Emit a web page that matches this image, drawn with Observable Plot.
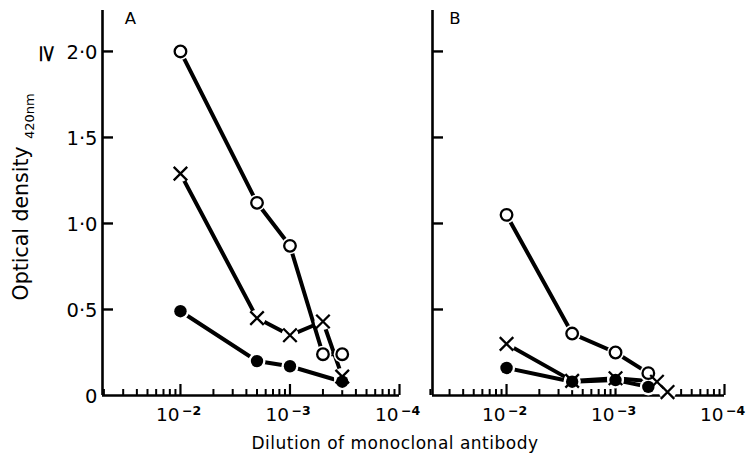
<!DOCTYPE html>
<html><head><meta charset="utf-8">
<script src="https://cdn.jsdelivr.net/npm/d3@7"></script>
<script src="https://cdn.jsdelivr.net/npm/@observablehq/plot@0.6"></script>
<style>
body{margin:0;background:#fff;}
#wrap{position:relative;width:748px;height:455px;font-family:"DejaVu Sans",sans-serif;background:#fff;overflow:hidden;}
#a{position:absolute;left:0;top:0;}
#b{position:absolute;left:420px;top:0;}
#xlab{position:absolute;left:0;width:790px;top:433px;text-align:center;font-size:17px;line-height:20px;letter-spacing:0.5px;color:#000;}
</style></head>
<body><div id="wrap"><div id="a"></div><div id="b"></div><div id="xlab">Dilution of monoclonal antibody</div></div>
<script>
// ---- Panel A data (dilution, optical density) ----
const dilA = [1e-2, 2e-3, 1e-3, 5e-4, 1/3000];
const aOpen = [2.0, 1.12, 0.87, 0.24, 0.24];
const aCross = [1.29, 0.45, 0.35, 0.43, 0.11];
const dilAFilled = [1e-2, 2e-3, 1e-3, 1/3000];
const aFilled = [0.49, 0.20, 0.17, 0.08];

// ---- Panel B data ----
const dilB = [1e-2, 1/400, 1e-3, 5e-4];
const bOpen = [1.05, 0.36, 0.25, 0.13];
const dilBCross = [1e-2, 1/400, 1e-3, 1/2400, 1/3000];
const bCross = [0.30, 0.085, 0.10, 0.08, 0.02];
const dilBFilled = [1e-2, 1/400, 1e-3, 5e-4];
const bFilled = [0.16, 0.08, 0.09, 0.05];

// ---- Axis ticks / labels ----
const yTicks = [0, 0.5, 1.0, 1.5, 2.0];
const yTickLabels = ["0", "0·5", "1·0", "1·5", "2·0"];
const xMajor = [1e-2, 1e-3, 1e-4];
const xMajorBase = ["10", "10", "10"];
const xMajorExp = ["−2", "−3", "−4"];
const minorFactors = [20, 30, 40, 50, 60, 70, 80, 90, 200, 300, 400, 500, 600, 700, 800, 900, 2000, 3000, 4000, 5000, 6000, 7000, 8000, 9000];
const xMinor = minorFactors.map(f => 1 / f);

const rows = (xs, ys) => xs.map((d, i) => ({d, v: ys[i]}));

function panel({width, marginLeft, marginRight, xLeft, series, letter, letterDx, withYLabels}) {
  const height = 430, marginTop = 10, marginBottom = 35;
  const fh = height - marginTop - marginBottom;
  const fw = width - marginLeft - marginRight;
  const marks = [];
  marks.push(Plot.ruleY([0], {strokeWidth: 2.6}));
  marks.push(Plot.ruleX([xLeft], {strokeWidth: 2.6}));
  marks.push(Plot.tickY(yTicks.slice(1), {y: d => d, insetRight: fw - 11, strokeWidth: 2.4}));
  marks.push(Plot.tickX(xMinor, {x: d => d, insetTop: fh - 6, strokeWidth: 2}));
  marks.push(Plot.tickX(xMajor, {x: d => d, insetTop: fh - 11, strokeWidth: 2.2}));
  marks.push(Plot.text(xMajor, {x: d => d, text: (d, i) => xMajorBase[i], frameAnchor: "bottom", dy: 20, dx: -1, textAnchor: "end", lineAnchor: "middle", fontSize: 18.5}));
  marks.push(Plot.text(xMajor, {x: d => d, text: (d, i) => xMajorExp[i], frameAnchor: "bottom", dy: 15, dx: 1.5, textAnchor: "start", lineAnchor: "middle", fontSize: 12.5, fontWeight: "bold"}));
  if (withYLabels) {
    marks.push(Plot.text(yTicks, {y: d => d, text: (d, i) => yTickLabels[i], frameAnchor: "left", dx: -5, dy: 1, textAnchor: "end", lineAnchor: "middle", fontSize: 19.5}));
    marks.push(Plot.text([2.0], {y: d => d, text: () => "≥", frameAnchor: "left", dx: -55, dy: 2, rotate: 90, textAnchor: "middle", lineAnchor: "middle", fontSize: 24}));
    marks.push(Plot.text(["Optical density"], {frameAnchor: "left", dx: -75, dy: 97.5, rotate: -90, textAnchor: "start", lineAnchor: "bottom", fontSize: 20.5}));
    marks.push(Plot.text(["420nm"], {frameAnchor: "left", dx: -69, dy: -64, rotate: -90, textAnchor: "start", lineAnchor: "bottom", fontSize: 13}));
  }
  marks.push(Plot.text([letter], {frameAnchor: "top-left", dx: letterDx, dy: 8, lineAnchor: "middle", textAnchor: "middle", fontSize: 16.5}));
  for (const s of series) marks.push(Plot.line(s.data, {x: "d", y: "v", stroke: "black", strokeWidth: 4}));
  for (const s of series) marks.push(Plot.dot(s.data, {x: "d", y: "v", r: 8.5, fill: "white"}));
  for (const s of series) {
    if (s.kind === "open") marks.push(Plot.dot(s.data, {x: "d", y: "v", r: 5.8, fill: "white", stroke: "black", strokeWidth: 2.3}));
    else if (s.kind === "filled") marks.push(Plot.dot(s.data, {x: "d", y: "v", r: 6.2, fill: "black"}));
    else marks.push(Plot.dot(s.data, {x: "d", y: "v", r: 6.2, symbol: "times", stroke: "black", strokeWidth: 2.3}));
  }
  return Plot.plot({
    width, height, marginLeft, marginRight, marginTop, marginBottom,
    x: {type: "log", domain: [xLeft, 1e-4], axis: null},
    y: {domain: [0, 2.238], axis: null},
    style: {fontFamily: "'DejaVu Sans', sans-serif", fontSize: "17px", overflow: "visible", background: "transparent", color: "black"},
    marks
  });
}

document.getElementById("a").append(panel({
  width: 420, marginLeft: 102, marginRight: 21, xLeft: 0.0515, letter: "A", letterDx: 28, withYLabels: true,
  series: [
    {kind: "open", data: rows(dilA, aOpen)},
    {kind: "cross", data: rows(dilA, aCross)},
    {kind: "filled", data: rows(dilAFilled, aFilled)}
  ]
}));
document.getElementById("b").append(panel({
  width: 328, marginLeft: 12, marginRight: 24, xLeft: 0.0478, letter: "B", letterDx: 22.5, withYLabels: false,
  series: [
    {kind: "open", data: rows(dilB, bOpen)},
    {kind: "filled", data: rows(dilBFilled, bFilled)},
    {kind: "cross", data: rows(dilBCross, bCross)}
  ]
}));
</script>
</body></html>
